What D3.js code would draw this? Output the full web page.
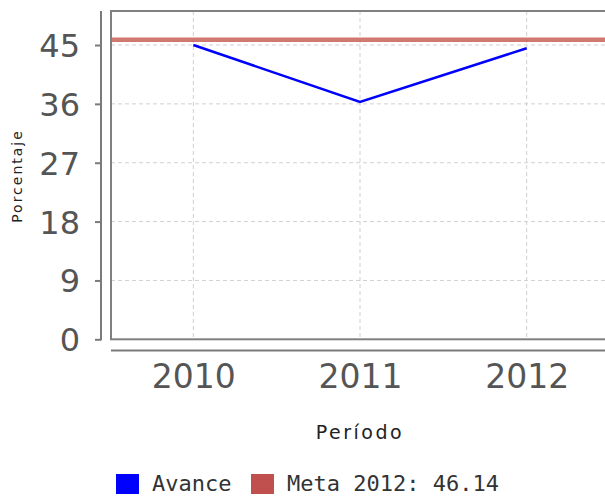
<!DOCTYPE html>
<html>
<head>
<meta charset="utf-8">
<script src="https://cdn.jsdelivr.net/npm/d3@7"></script>
<style>
  body { margin: 0; background: #fff; }
  svg { display: block; }
  .tick text { font-family: "DejaVu Sans", sans-serif; fill: #555; }
</style>
</head>
<body>
<div id="chart"></div>
<script>
// data
const years = ["2010", "2011", "2012"];
const avance = [45.0, 36.3, 44.5];
const meta = 45.8;
const metaLabel = "Meta 2012: 46.14";
const yTicks = [0, 9, 18, 27, 36, 45];

const width = 605, height = 497;
const plotLeft = 111, plotTop = 11, plotBottom = 339.3, plotRight = 615;

const svg = d3.select("#chart").append("svg")
  .attr("width", width)
  .attr("height", height);

const x = d3.scalePoint()
  .domain(years)
  .range([110, 610])
  .padding(0.5);

const y = d3.scaleLinear()
  .domain([0, 50.2])
  .range([plotBottom, plotTop]);

// grid
const grid = svg.append("g").attr("stroke", "#d0d0d0").attr("stroke-dasharray", "4,3");
grid.selectAll("line.h")
  .data(yTicks.filter(d => d > 0))
  .enter().append("line")
  .attr("x1", plotLeft).attr("x2", plotRight)
  .attr("y1", d => y(d)).attr("y2", d => y(d));
grid.selectAll("line.v")
  .data(years)
  .enter().append("line")
  .attr("x1", d => x(d)).attr("x2", d => x(d))
  .attr("y1", plotTop).attr("y2", plotBottom);

// plot border
svg.append("rect")
  .attr("x", plotLeft).attr("y", plotTop)
  .attr("width", plotRight - plotLeft).attr("height", plotBottom - plotTop)
  .attr("fill", "none")
  .attr("stroke", "#808080")
  .attr("stroke-width", 2);

// meta line
svg.append("line")
  .attr("x1", plotLeft + 1).attr("x2", plotRight)
  .attr("y1", y(meta)).attr("y2", y(meta))
  .attr("stroke", "#c9605a")
  .attr("stroke-opacity", 0.85)
  .attr("stroke-width", 4.5);

// avance line
const line = d3.line()
  .x((d, i) => x(years[i]))
  .y(d => y(d));

svg.append("path")
  .datum(avance)
  .attr("d", line)
  .attr("fill", "none")
  .attr("stroke", "#0000ff")
  .attr("stroke-width", 2.5);

// y axis
const yAxis = svg.append("g")
  .attr("transform", "translate(101,0)")
  .call(d3.axisLeft(y).tickValues(yTicks).tickSize(6).tickPadding(15));
yAxis.select(".domain")
  .attr("d", `M0,${plotTop}V${plotBottom + 1}`)
  .attr("stroke", "#7a7a7a").attr("stroke-width", 2);
yAxis.selectAll(".tick line").attr("stroke", "#7a7a7a").attr("stroke-width", 2);
yAxis.selectAll(".tick text")
  .attr("font-size", 32)
  .attr("dy", "0.36em");
yAxis.attr("font-size", null).attr("font-family", null);

// x axis
const xAxis = svg.append("g")
  .attr("transform", "translate(0,350.5)")
  .call(d3.axisBottom(x).tickSize(0).tickPadding(14));
xAxis.select(".domain")
  .attr("d", `M${plotLeft},0H${plotRight}`)
  .attr("stroke", "#7a7a7a").attr("stroke-width", 2);
xAxis.selectAll(".tick text")
  .attr("font-size", 33)
  .attr("dy", "0.71em");
xAxis.attr("font-size", null).attr("font-family", null);

// axis titles
svg.append("text")
  .attr("transform", "translate(22,176) rotate(-90)")
  .attr("text-anchor", "middle")
  .attr("font-family", "DejaVu Sans, sans-serif")
  .attr("font-size", 14)
  .attr("letter-spacing", 2)
  .attr("fill", "#222")
  .text("Porcentaje");

svg.append("text")
  .attr("x", 360).attr("y", 439)
  .attr("text-anchor", "middle")
  .attr("font-family", "DejaVu Sans, sans-serif")
  .attr("font-size", 19)
  .attr("letter-spacing", 2.5)
  .attr("fill", "#222")
  .text("Período");

// legend
const legendItems = [
  { label: "Avance", color: "#0000ff", x: 116 },
  { label: metaLabel, color: "#c0504d", x: 251 }
];
const legend = svg.append("g");
legend.selectAll("rect")
  .data(legendItems)
  .enter().append("rect")
  .attr("x", d => d.x).attr("y", 474)
  .attr("width", 23).attr("height", 20)
  .attr("fill", d => d.color);
legend.selectAll("text")
  .data(legendItems)
  .enter().append("text")
  .attr("x", d => d.x + 36).attr("y", 491)
  .attr("font-family", "DejaVu Sans Mono, monospace")
  .attr("font-size", 22)
  .attr("fill", "#333")
  .text(d => d.label);
</script>
</body>
</html>
